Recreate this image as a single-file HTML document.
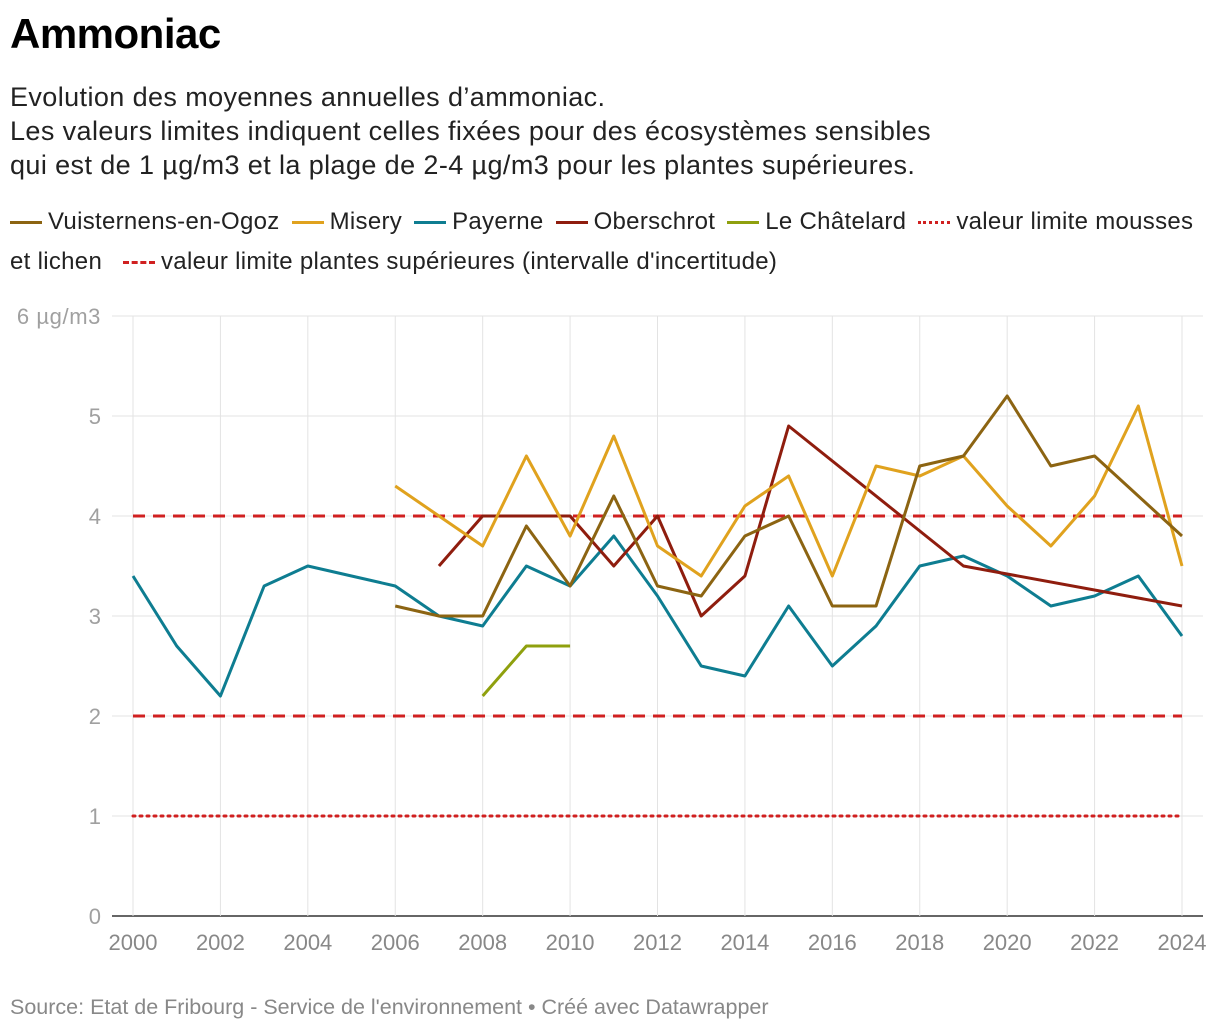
<!DOCTYPE html>
<html><head><meta charset="utf-8"><style>
body{margin:0;background:#fff;font-family:"Liberation Sans",sans-serif;color:#222;width:1220px;height:1032px;overflow:hidden;position:relative}
.t{position:absolute;left:10px;top:10px;font-size:42px;font-weight:bold;color:#000;letter-spacing:-0.5px}
.s{position:absolute;left:10px;top:80px;font-size:27px;line-height:34px;color:#222;letter-spacing:0.4px;white-space:nowrap}
.lg{position:absolute;left:10px;top:202px;font-size:24px;line-height:40px;width:1215px;color:#222;white-space:nowrap;letter-spacing:0.3px}
.li{display:inline-block;margin-right:12px;white-space:nowrap}
.sw{display:inline-block;width:32px;height:0;border-top:3px solid;vertical-align:middle;margin-right:6px}
.src{position:absolute;left:10px;top:995px;font-size:21.5px;color:#888}
svg{position:absolute;left:0;top:0}
</style></head><body>
<div class="t">Ammoniac</div>
<div class="s">Evolution des moyennes annuelles d’ammoniac.<br>Les valeurs limites indiquent celles fixées pour des écosystèmes sensibles<br>qui est de 1 µg/m3 et la plage de 2-4 µg/m3 pour les plantes supérieures.</div>
<div class="lg">
<span class="li"><span class="sw" style="border-color:#8c6412"></span>Vuisternens-en-Ogoz</span><span class="li"><span class="sw" style="border-color:#e0a21e"></span>Misery</span><span class="li"><span class="sw" style="border-color:#0e7d91"></span>Payerne</span><span class="li"><span class="sw" style="border-color:#8f1d0e"></span>Oberschrot</span><span class="li"><span class="sw" style="border-color:#8fa00e"></span>Le Châtelard</span><span class="li" style="margin-right:0"><span class="sw" style="border-top:3px dotted #d02020"></span>valeur limite mousses</span><br>et lichen &nbsp;&nbsp;<span class="li"><span class="sw" style="border-top:3px dashed #d02020"></span>valeur limite plantes supérieures (intervalle d'incertitude)</span>
</div>
<svg id="c" width="1220" height="1032"></svg>
<div class="src">Source: Etat de Fribourg - Service de l'environnement • Créé avec Datawrapper</div>
<script>
const years=[2000,2001,2002,2003,2004,2005,2006,2007,2008,2009,2010,2011,2012,2013,2014,2015,2016,2017,2018,2019,2020,2021,2022,2023,2024];
const payerne=[3.4,2.7,2.2,3.3,3.5,3.4,3.3,3.0,2.9,3.5,3.3,3.8,3.2,2.5,2.4,3.1,2.5,2.9,3.5,3.6,3.4,3.1,3.2,3.4,2.8];
const vuisternens=[null,null,null,null,null,null,3.1,3.0,3.0,3.9,3.3,4.2,3.3,3.2,3.8,4.0,3.1,3.1,4.5,4.6,5.2,4.5,4.6,4.2,3.8];
const misery=[null,null,null,null,null,null,4.3,4.0,3.7,4.6,3.8,4.8,3.7,3.4,4.1,4.4,3.4,4.5,4.4,4.6,4.1,3.7,4.2,5.1,3.5];
const oberschrot=[null,null,null,null,null,null,null,3.5,4.0,4.0,4.0,3.5,4.0,3.0,3.4,4.9,null,null,null,3.5,null,null,null,null,3.1];
const chatelard=[null,null,null,null,null,null,null,null,2.2,2.7,2.7,null,null,null,null,null,null,null,null,null,null,null,null,null,null];
const yTicks=[0,1,2,3,4,5,6];
const xTicks=[2000,2002,2004,2006,2008,2010,2012,2014,2016,2018,2020,2022,2024];
const limitMousses=1;
const limitPlantes=[2,4];
const svg=document.getElementById('c');const NS='http://www.w3.org/2000/svg';
const x=y=>133+(y-2000)*(1182-133)/24;
const yy=v=>916-v*100;
function el(t,a){const e=document.createElementNS(NS,t);for(const k in a)e.setAttribute(k,a[k]);svg.appendChild(e);return e;}
yTicks.forEach(v=>{
 const l=el('line',{x1:112,x2:1203,y1:yy(v),y2:yy(v),stroke:v?'#e3e3e3':'#333','stroke-width':v?1:1.5});
 
 
 const t=el('text',{x:101,y:yy(v)+8,'text-anchor':'end','font-size':22,fill:'#a0a0a0','font-family':'Liberation Sans','letter-spacing':v==6?'0.6':'0'});
 t.textContent=v==6?'6 µg/m3':v;
 
 
});
xTicks.forEach(v=>{
 const l=el('line',{x1:x(v),x2:x(v),y1:316,y2:916,stroke:'#e3e3e3'});
 
 
 const t=el('text',{x:x(v),y:950,'text-anchor':'middle','font-size':22,fill:'#888','font-family':'Liberation Sans'});
 t.textContent=v;
 
 
});
const lm=el('line',{x1:x(2000),x2:x(2024),y1:yy(limitMousses),y2:yy(limitMousses),stroke:'#d02020','stroke-width':3,'stroke-dasharray':'2 5','stroke-linecap':'round'});


limitPlantes.forEach(v=>{
 const l=el('line',{x1:x(2000),x2:x(2024),y1:yy(v),y2:yy(v),stroke:'#d02020','stroke-width':3,'stroke-dasharray':'12 8'});
 
 
});
function series(d,c,n){
 const p=[];d.forEach((v,i)=>{if(v!=null)p.push(x(years[i])+','+yy(v));});
 const l=el('polyline',{points:p.join(' '),fill:'none',stroke:c,'stroke-width':3,'stroke-linejoin':'round'});
 
 
}
series(payerne,'#0e7d91','line-payerne');
series(chatelard,'#8fa00e','line-chatelard');
series(oberschrot,'#8f1d0e','line-oberschrot');
series(misery,'#e0a21e','line-misery');
series(vuisternens,'#8c6412','line-vuisternens');
</script>
</body></html>
